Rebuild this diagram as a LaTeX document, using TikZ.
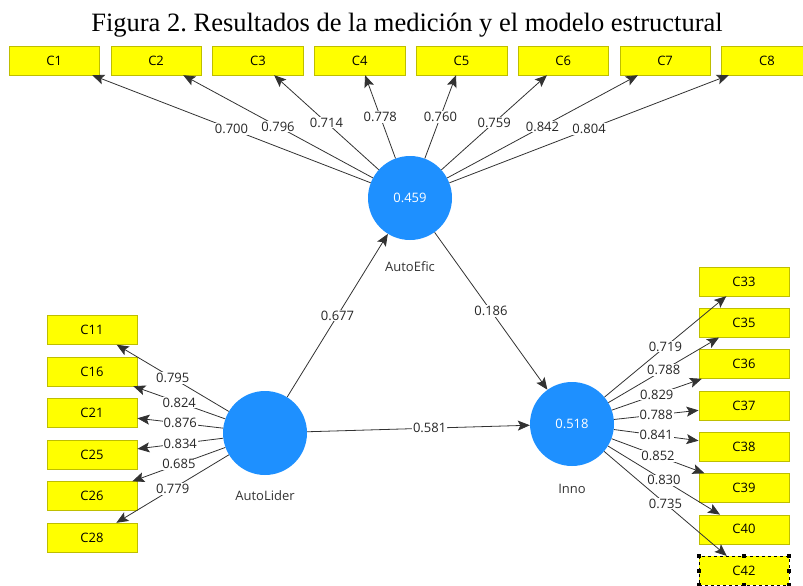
\documentclass[tikz,border=0pt]{standalone}
\usepackage{fontspec}
\setmainfont{Liberation Serif}
\newfontfamily\plsfont{Open Sans}
\usetikzlibrary{arrows.meta}
\definecolor{plsblue}{RGB}{30,144,255}
\definecolor{plsyellow}{RGB}{255,255,0}
\definecolor{plsedge}{RGB}{190,190,0}
\definecolor{plsline}{RGB}{50,50,50}
\newcommand{\plssize}{\plsfont\fontsize{13}{15}\selectfont}
\frenchspacing

\begin{document}
\begin{tikzpicture}[x=1pt, y=-1pt,
  indicator/.style={draw=plsedge, fill=plsyellow, minimum width=90.5pt, minimum height=29pt, inner sep=0pt, font=\plssize},
  construct/.style={circle, fill=plsblue, minimum size=84pt, inner sep=0pt, text=white, font=\plssize},
  cname/.style={font=\plssize, text=black!80},
  loading/.style={draw=plsline, line width=0.8pt, -{Stealth[length=12pt,width=10pt,inset=2.5pt]}},
  weight/.style={fill=white, inner sep=1pt, font=\plssize, text=black!85}]
  \useasboundingbox (0,0) rectangle (803,586);

  % Title
  \node[anchor=base, font=\fontsize{26.5}{30}\selectfont] (title) at (407,32) {Figura 2. Resultados de la medición y el modelo estructural};

  % Constructs
  \node[construct] (efic) at (410,198) {0.459};
  \node[cname] (efic-name) at (410,267) {AutoEfic};
  \node[construct] (lider) at (265,433) {};
  \node[cname] (lider-name) at (265,496) {AutoLider};
  \node[construct] (inno) at (572,424) {0.518};
  \node[cname] (inno-name) at (572,489) {Inno};

  % Indicators of AutoEfic
  \node[indicator] (c1) at (54.3,60.5) {C1};
  \node[indicator] (c2) at (156.1,60.5) {C2};
  \node[indicator] (c3) at (257.9,60.5) {C3};
  \node[indicator] (c4) at (359.7,60.5) {C4};
  \node[indicator] (c5) at (461.5,60.5) {C5};
  \node[indicator] (c6) at (563.3,60.5) {C6};
  \node[indicator] (c7) at (665.1,60.5) {C7};
  \node[indicator] (c8) at (766.9,60.5) {C8};

  % Indicators of AutoLider
  \node[indicator] (c11) at (92,330) {C11};
  \node[indicator] (c16) at (92,371.5) {C16};
  \node[indicator] (c21) at (92,413) {C21};
  \node[indicator] (c25) at (92,454.5) {C25};
  \node[indicator] (c26) at (92,496) {C26};
  \node[indicator] (c28) at (92,537.5) {C28};

  % Indicators of Inno
  \node[indicator] (c33) at (744,281.5) {C33};
  \node[indicator] (c35) at (744,322.8) {C35};
  \node[indicator] (c36) at (744,364.1) {C36};
  \node[indicator] (c37) at (744,405.4) {C37};
  \node[indicator] (c38) at (744,446.7) {C38};
  \node[indicator] (c39) at (744,488) {C39};
  \node[indicator] (c40) at (744,529.3) {C40};
  \node[indicator, draw=black, dashed] (c42) at (744,570.6) {C42};
  \foreach \a in {north west, north, north east, west, east, south west, south, south east}
    \fill ([shift={(-2,-2)}]c42.\a) rectangle ++(4,4);

  % Outer loadings
  \draw[loading] (efic) -- (c1) node[midway, weight] {0.700};
  \draw[loading] (efic) -- (c2) node[midway, weight] {0.796};
  \draw[loading] (efic) -- (c3) node[midway, weight] {0.714};
  \draw[loading] (efic) -- (c4) node[midway, weight] {0.778};
  \draw[loading] (efic) -- (c5) node[midway, weight] {0.760};
  \draw[loading] (efic) -- (c6) node[midway, weight] {0.759};
  \draw[loading] (efic) -- (c7) node[midway, weight] {0.842};
  \draw[loading] (efic) -- (c8) node[midway, weight] {0.804};

  \draw[loading] (lider) -- (c11) node[midway, weight] {0.795};
  \draw[loading] (lider) -- (c16) node[midway, weight] {0.824};
  \draw[loading] (lider) -- (c21) node[midway, weight] {0.876};
  \draw[loading] (lider) -- (c25) node[midway, weight] {0.834};
  \draw[loading] (lider) -- (c26) node[midway, weight] {0.685};
  \draw[loading] (lider) -- (c28) node[midway, weight] {0.779};

  \draw[loading] (inno) -- (c33) node[midway, weight] {0.719};
  \draw[loading] (inno) -- (c35) node[midway, weight] {0.788};
  \draw[loading] (inno) -- (c36) node[midway, weight] {0.829};
  \draw[loading] (inno) -- (c37) node[midway, weight] {0.788};
  \draw[loading] (inno) -- (c38) node[midway, weight] {0.841};
  \draw[loading] (inno) -- (c39) node[midway, weight] {0.852};
  \draw[loading] (inno) -- (c40) node[midway, weight] {0.830};
  \draw[loading] (inno) -- (c42) node[midway, weight] {0.735};

  % Path coefficients
  \draw[loading] (lider) -- (efic) node[midway, weight] {0.677};
  \draw[loading] (efic) -- (inno) node[midway, weight] {0.186};
  \draw[loading] (lider) -- (inno) node[pos=0.55, weight] {0.581};
\end{tikzpicture}
\end{document}
